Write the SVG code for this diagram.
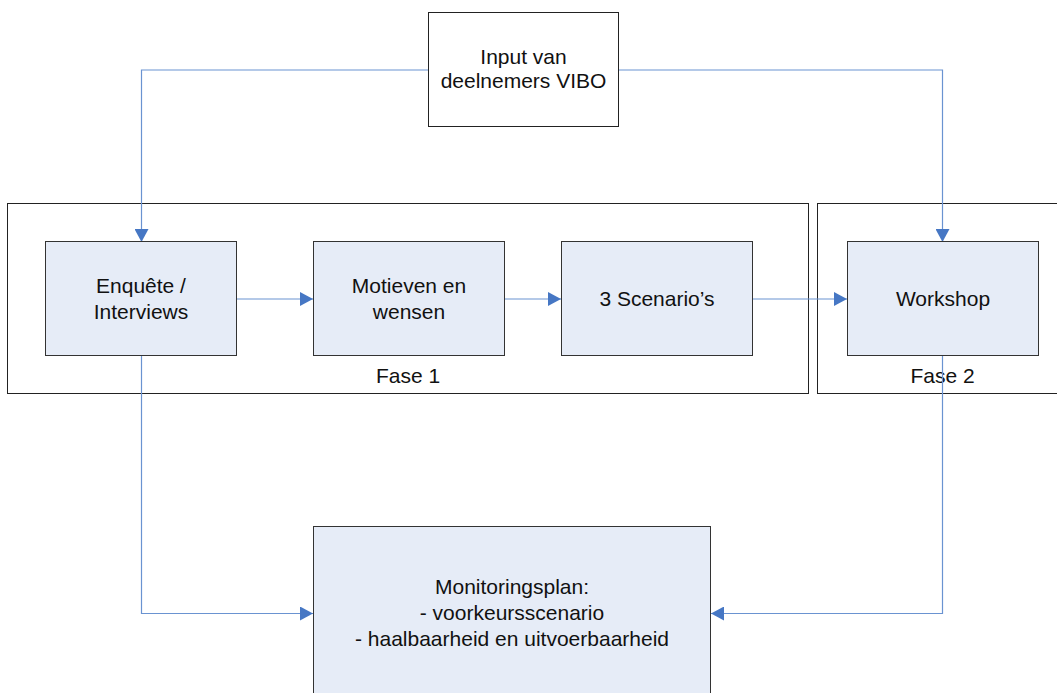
<svg xmlns="http://www.w3.org/2000/svg" width="1057" height="693" viewBox="0 0 1057 693">
  <defs>
    <style>
      .box { fill: #e6ecf7; stroke: #333333; stroke-width: 1; }
      .plain { fill: #ffffff; stroke: #222222; stroke-width: 1; }
      .frame { fill: none; stroke: #222222; stroke-width: 1; }
      .conn { fill: none; stroke: #6a93d1; stroke-width: 1.2; marker-end: url(#arrow); }
      .lbl { font-family: "Liberation Sans", Arial, sans-serif; font-size: 21px; fill: #111111; text-anchor: middle; }
    </style>
    <marker id="arrow" markerUnits="userSpaceOnUse" markerWidth="14" markerHeight="14" refX="13" refY="7" orient="auto">
      <path d="M0,0 L13,7 L0,14 z" fill="#4677c4"/>
    </marker>
  </defs>

  <rect width="1057" height="693" fill="#ffffff"/>

  <g id="fase1">
    <rect class="frame" x="7.5" y="203.5" width="801" height="190"/>
    <text class="lbl" x="408" y="382.5">Fase 1</text>
  </g>
  <g id="fase2">
    <rect class="frame" x="817.5" y="203.5" width="260" height="190"/>
    <text class="lbl" x="942.5" y="382.5">Fase 2</text>
  </g>

  <g id="connectors">
    <path class="conn" d="M428,70 H141.5 V242"/>
    <path class="conn" d="M619,70 H942.5 V242"/>
    <path class="conn" d="M236.5,299 H313"/>
    <path class="conn" d="M505,299 H561"/>
    <path class="conn" d="M752,299 H847"/>
    <path class="conn" d="M141.5,356 V613.5 H313"/>
    <path class="conn" d="M942.5,356 V613.5 H711"/>
  </g>

  <g id="input">
    <rect class="plain" x="428.5" y="12.5" width="190" height="114"/>
    <text class="lbl" x="523.5" y="64">Input van</text>
    <text class="lbl" x="523.5" y="88">deelnemers VIBO</text>
  </g>

  <g id="enquete">
    <rect class="box" x="45.5" y="241.5" width="191" height="114"/>
    <text class="lbl" x="141" y="292.5">Enquête /</text>
    <text class="lbl" x="141" y="318.5">Interviews</text>
  </g>

  <g id="motieven">
    <rect class="box" x="313.5" y="241.5" width="191" height="114"/>
    <text class="lbl" x="409" y="292.5">Motieven en</text>
    <text class="lbl" x="409" y="318.5">wensen</text>
  </g>

  <g id="scenarios">
    <rect class="box" x="561.5" y="241.5" width="191" height="114"/>
    <text class="lbl" x="657" y="306">3 Scenario’s</text>
  </g>

  <g id="workshop">
    <rect class="box" x="847.5" y="241.5" width="191" height="114"/>
    <text class="lbl" x="943" y="306">Workshop</text>
  </g>

  <g id="monitoringsplan">
    <rect class="box" x="313.5" y="526.5" width="397" height="200"/>
    <text class="lbl" x="512" y="593.5">Monitoringsplan:</text>
    <text class="lbl" x="512" y="620">- voorkeursscenario</text>
    <text class="lbl" x="512" y="646">- haalbaarheid en uitvoerbaarheid</text>
  </g>
</svg>
